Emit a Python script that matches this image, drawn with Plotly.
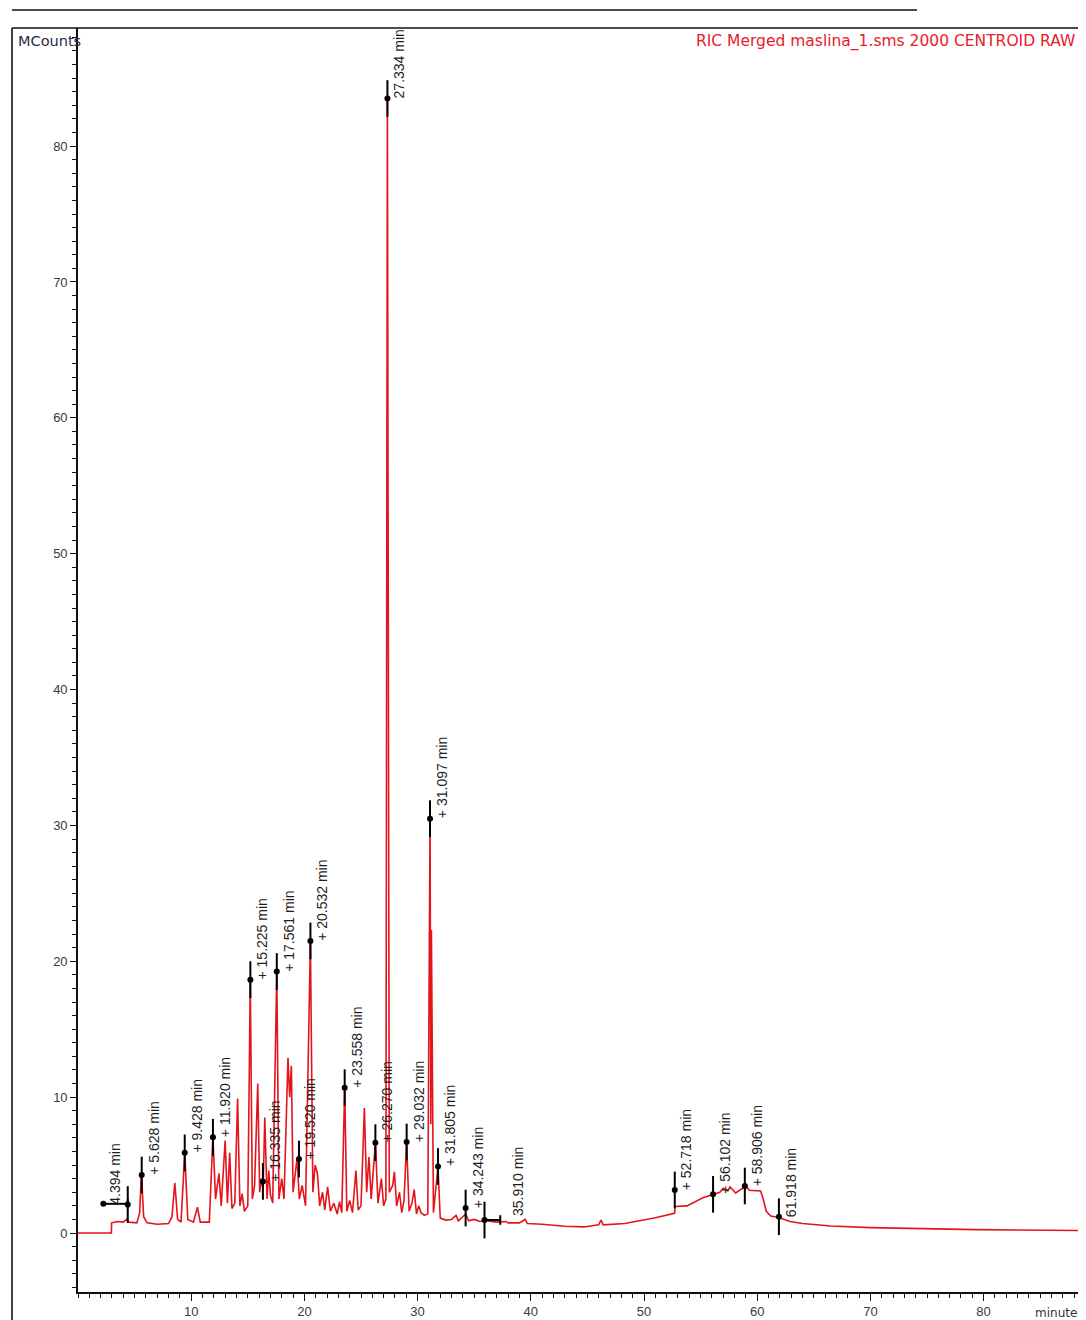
import plotly.graph_objects as go

# ---------------- data ----------------
time_min = [
    0.0, 2.95, 2.97, 3.5, 4.0, 4.3, 4.5, 5.2, 5.45, 5.6, 5.8, 6.1, 7.0, 8.0, 8.3, 8.55, 8.8,
    9.1, 9.43, 9.7, 10.2, 10.55, 10.8, 11.6, 11.92, 12.15, 12.45, 12.65, 13.0, 13.2, 13.4,
    13.6, 13.85, 14.1, 14.3, 14.5, 14.7, 15.0, 15.22, 15.4, 15.6, 15.88, 16.05, 16.2, 16.35,
    16.5, 16.7, 16.85, 17.0, 17.2, 17.56, 17.75, 18.0, 18.2, 18.55, 18.7, 18.85, 19.0, 19.35,
    19.55, 19.8, 20.1, 20.53, 20.75, 20.95, 21.15, 21.35, 21.6, 21.8, 22.05, 22.3, 22.6,
    22.9, 23.1, 23.3, 23.56, 23.75, 24.0, 24.25, 24.55, 24.75, 25.0, 25.3, 25.5, 25.7, 25.9,
    26.27, 26.5, 26.8, 27.0, 27.2, 27.33, 27.5, 27.8, 27.95, 28.15, 28.4, 28.6, 28.8, 29.03,
    29.25, 29.5, 29.7, 29.9, 30.1, 30.3, 30.6, 30.9, 31.1, 31.17, 31.22, 31.4, 31.8, 32.0,
    32.5, 33.0, 33.4, 33.6, 34.25, 34.5, 35.0, 35.5, 36.0, 37.0, 37.8, 38.0, 39.0, 39.5,
    39.7, 41.0, 43.0, 44.7, 46.0, 46.2, 46.4, 48.3, 50.9, 52.3, 52.7, 52.75, 53.8, 55.2,
    56.7, 57.0, 57.4, 57.6, 58.1, 59.0, 59.3, 60.3, 60.5, 60.8, 61.2, 61.9, 62.9, 64.0,
    66.5, 70.0, 72.0, 79.3, 89.2,
]
mcounts = [
    0.0, 0.0, 0.75, 0.85, 0.8, 1.0, 0.8, 0.75, 1.5, 4.4, 1.2, 0.75, 0.65, 0.7, 1.2, 3.7, 1.0,
    0.8, 5.9, 1.0, 0.8, 1.9, 0.8, 0.8, 7.1, 2.5, 4.4, 2.0, 6.8, 2.2, 5.9,
    1.8, 2.2, 9.9, 2.0, 2.9, 1.6, 2.0, 18.6, 2.5, 3.5, 11.0, 3.0, 4.0, 3.2,
    8.5, 2.5, 4.6, 2.8, 2.2, 19.25, 2.5, 4.0, 2.5, 12.9, 10.0, 12.3, 3.0, 5.5,
    2.5, 3.5, 2.0, 21.5, 3.0, 5.0, 4.4, 2.0, 3.0, 1.7, 3.4, 1.6, 2.2,
    1.4, 2.3, 1.5, 10.7, 1.6, 2.4, 1.5, 4.6, 1.7, 2.0, 9.2, 3.0, 5.6, 2.5,
    6.65, 2.2, 4.0, 2.0, 2.5, 83.5, 3.0, 3.5, 4.5, 2.0, 3.0, 1.5, 2.4, 6.7,
    1.6, 2.2, 3.2, 1.4, 2.0, 1.5, 1.3, 1.4, 30.5, 8.0, 22.3, 1.5, 4.9, 1.1,
    0.95, 1.0, 1.3, 0.9, 1.4, 0.9, 1.0, 0.85, 0.9, 0.8, 0.85, 0.75, 0.75, 1.0,
    0.7, 0.65, 0.5, 0.45, 0.6, 0.95, 0.6, 0.7, 1.1, 1.4, 1.45, 1.95, 2.0, 2.6,
    3.0, 3.3, 3.1, 3.4, 2.95, 3.45, 3.15, 3.1, 2.6, 1.6, 1.25, 1.15, 0.85, 0.7,
    0.52, 0.4, 0.37, 0.25, 0.18,
]

peak_times = [4.394, 5.628, 9.428, 11.920, 15.225, 16.335, 17.561, 19.520, 20.532,
              23.558, 26.270, 27.334, 29.032, 31.097, 31.805, 34.243, 35.910,
              52.718, 56.102, 58.906, 61.918]
peak_heights = [2.1, 4.27, 5.9, 7.05, 18.65, 3.8, 19.25, 5.45, 21.5,
                10.7, 6.65, 83.5, 6.7, 30.5, 4.9, 1.84, 0.96,
                3.17, 2.85, 3.46, 1.2]
peak_labels = ["4.394 min", "+ 5.628 min", "+ 9.428 min", "+ 11.920 min", "+ 15.225 min",
               "+ 16.335 min", "+ 17.561 min", "+ 19.520 min", "+ 20.532 min",
               "+ 23.558 min", "+ 26.270 min", "27.334 min", "+ 29.032 min", "+ 31.097 min",
               "+ 31.805 min", "+ 34.243 min", "35.910 min",
               "+ 52.718 min", "+ 56.102 min", "+ 58.906 min", "61.918 min"]

# integration baseline marks (start time, end time, level)
base_marks_start = [2.24, 35.910]
base_marks_end = [4.394, 37.3]
base_marks_level = [2.15, 0.96]

x_tick_vals = [10, 20, 30, 40, 50, 60, 70, 80]
y_tick_vals = [0, 10, 20, 30, 40, 50, 60, 70, 80]

title_text = "RIC Merged maslina_1.sms 2000 CENTROID RAW"

# ---------------- figure ----------------
# The page body has an 8 px margin, so the figure is drawn from (8, 8) of the screen.
OFF = 8
W, H = 1086 - OFF, 1320 - OFF
PLOT_L, PLOT_T, PLOT_B = 78, 28, 1292          # screen pixels of the plot area
ML, MT, MB, MR = PLOT_L - OFF, PLOT_T - OFF, 1320 - PLOT_B, 0
PW, PH = W - ML - MR, H - MT - MB
X_RANGE = [0, PW / 11.32]
Y_RANGE = [-4.34, 88.69]
BAR_HALF = 1.35

fig = go.Figure()

fig.add_trace(go.Scatter(
    x=time_min, y=mcounts, mode="lines",
    line=dict(color="#e3141c", width=1.6),
    hoverinfo="skip", showlegend=False,
))

# peak bars
bx, by = [], []
for t, h in zip(peak_times, peak_heights):
    bx += [t, t, None]
    by += [h - BAR_HALF, h + BAR_HALF, None]
for t0, t1, lv in zip(base_marks_start, base_marks_end, base_marks_level):
    bx += [t0, t1, None, t1, t1, None]
    by += [lv, lv, None, lv - 0.35, lv + 0.35, None]
fig.add_trace(go.Scatter(
    x=bx, y=by, mode="lines", line=dict(color="black", width=2),
    hoverinfo="skip", showlegend=False,
))

# peak dots
fig.add_trace(go.Scatter(
    x=peak_times + base_marks_start[:1], y=peak_heights + base_marks_level[:1],
    mode="markers", marker=dict(color="black", size=6),
    hoverinfo="skip", showlegend=False,
))

# right-side mirror ticks helper trace (invisible, on the overlaid axis)
fig.add_trace(go.Scatter(x=[0], y=[-100], yaxis="y2", mode="markers",
                         marker=dict(size=1, opacity=0), showlegend=False, hoverinfo="skip"))

label_shift = {"4.394 min": -13, "35.910 min": 34}
label_yshift = {"35.910 min": 2}
for t, h, lab in zip(peak_times, peak_heights, peak_labels):
    fig.add_annotation(
        x=t, y=h, xref="x", yref="y", text=lab, showarrow=False,
        textangle=-90, xanchor="center", yanchor="bottom",
        xshift=label_shift.get(lab, 12), yshift=label_yshift.get(lab, -2),
        font=dict(family="Liberation Sans, Arial", size=14, color="#1e1e1e"),
    )

def px_to_paper_x(px):
    return (px - PLOT_L) / PW

def px_to_paper_y(py):
    return (PLOT_B - py) / PH

# MCounts label
fig.add_annotation(
    x=px_to_paper_x(16), y=px_to_paper_y(41), xref="paper", yref="paper",
    text="MCounts", showarrow=False, xanchor="left", yanchor="middle",
    font=dict(family="DejaVu Sans", size=14.5, color="#2a2a48"),
)
# trace title
fig.add_annotation(
    x=px_to_paper_x(1077), y=px_to_paper_y(41), xref="paper", yref="paper",
    text=title_text, showarrow=False, xanchor="right", yanchor="middle",
    font=dict(family="DejaVu Sans", size=15.5, color="#e8202a"),
)
# x axis title
fig.add_annotation(
    x=px_to_paper_x(1033), y=px_to_paper_y(1313), xref="paper", yref="paper",
    text="minutes", showarrow=False, xanchor="left", yanchor="middle",
    font=dict(family="DejaVu Sans", size=12, color="#333333"),
)

# outer frame and top rule
fl = px_to_paper_x(12)
fig.add_shape(type="line", xref="paper", yref="paper", x0=fl, x1=1.05, y0=1, y1=1,
              line=dict(color="#111111", width=1.6))
fig.add_shape(type="line", xref="paper", yref="paper", x0=fl, x1=fl, y0=1, y1=-0.1,
              line=dict(color="#111111", width=1.6))
fig.add_shape(type="line", xref="paper", yref="paper", x0=fl, x1=px_to_paper_x(917),
              y0=px_to_paper_y(10), y1=px_to_paper_y(10),
              line=dict(color="#111111", width=1.6))

tickfont = dict(family="Liberation Sans, Arial", size=13, color="#3a3a3a")
fig.update_layout(
    width=W, height=H,
    margin=dict(l=ML, r=MR, t=MT, b=MB, pad=0),
    paper_bgcolor="white", plot_bgcolor="white",
    showlegend=False,
    xaxis=dict(
        range=X_RANGE, showgrid=False, zeroline=False,
        showline=True, linecolor="#111111", linewidth=1.6,
        ticks="outside", ticklen=7, tickwidth=1.3, tickcolor="#111111",
        tickvals=x_tick_vals, ticktext=[str(v) for v in x_tick_vals],
        tickfont=tickfont,
        minor=dict(dtick=1, tick0=0, ticks="outside", ticklen=4, tickwidth=1.1,
                   tickcolor="#111111", showgrid=False),
    ),
    yaxis=dict(
        range=Y_RANGE, showgrid=False, zeroline=False,
        showline=True, linecolor="#111111", linewidth=1.6,
        ticks="outside", ticklen=6, tickwidth=1.3, tickcolor="#111111",
        tickvals=y_tick_vals, ticktext=[str(v) for v in y_tick_vals],
        tickfont=tickfont,
        minor=dict(dtick=1, tick0=0, ticks="outside", ticklen=4, tickwidth=1.1,
                   tickcolor="#111111", showgrid=False),
    ),
    yaxis2=dict(
        range=Y_RANGE, overlaying="y", side="right", showgrid=False, zeroline=False,
        showline=False, showticklabels=False, ticks="inside", ticklen=6, tickwidth=1.3,
        tickcolor="#111111", tickvals=y_tick_vals,
    ),
)

fig.write_html("out.html")
